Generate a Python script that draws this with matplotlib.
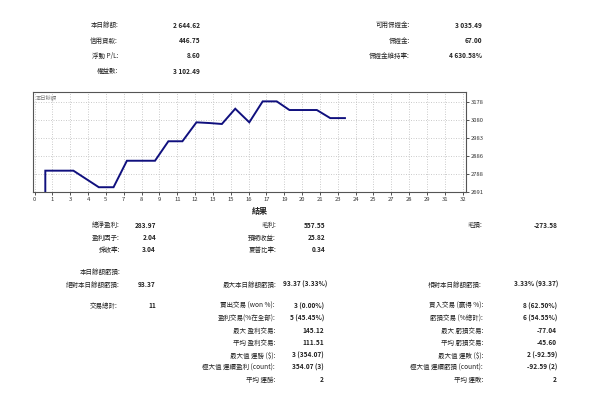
import numpy as np
import matplotlib.pyplot as plt

plt.rcParams["font.family"] = ["Noto Sans CJK TC", "DejaVu Sans"]

# account summary
top_left_labels = ["本日餘額:", "信用貸款:", "浮動 P/L:", "權益數:"]
top_left_values = ["2 644.62", "446.75", "8.60", "3 102.49"]
top_right_labels = ["可用保證金:", "保證金:", "保證金維持率:"]
top_right_values = ["3 035.49", "67.00", "4 630.58%"]

# balance curve (trade number, balance)
trade_x = [0.8, 0.8, 2.9, 4.8, 5.9, 6.9, 9.0, 10.0, 11.05, 12.1, 13.1, 14.0,
           15.0, 16.05, 17.05, 18.1, 19.05, 21.1, 22.1, 23.2]
balance = [2691, 2807, 2807, 2717, 2717, 2861, 2861, 2967, 2967, 3070, 3066, 3061,
           3144, 3070, 3184, 3184, 3137, 3137, 3093, 3093]
y_ticks = [2691, 2788, 2886, 2983, 3080, 3178]

# results table
res_col1 = [("總淨盈利:", "283.97"), ("盈利因子:", "2.04"), ("採收率:", "3.04")]
res_col2 = [("毛利:", "557.55"), ("預期收益:", "25.82"), ("夏普比率:", "0.34")]
res_col3 = [("毛損:", "-273.58")]
dd_labels = ["絕對本日餘額虧損:", "最大本日餘額虧損:", "相對本日餘額虧損:"]
dd_values = ["93.37", "93.37 (3.33%)", "3.33% (93.37)"]
trade_col2 = [("賣出交易 (won %):", "3 (0.00%)"), ("盈利交易(%在全部):", "5 (45.45%)"),
              ("最大 盈利交易:", "145.12"), ("平均 盈利交易:", "111.51"),
              ("最大值 連勝 ($):", "3 (354.07)"), ("極大值 連續盈利 (count):", "354.07 (3)"),
              ("平均 連勝:", "2")]
trade_col3 = [("買入交易 (贏得 %):", "8 (62.50%)"), ("虧損交易 (%總計):", "6 (54.55%)"),
              ("最大 虧損交易:", "-77.04"), ("平均 虧損交易:", "-45.60"),
              ("最大值 連敗 ($):", "2 (-92.59)"), ("極大值 連續虧損 (count):", "-92.59 (2)"),
              ("平均 連敗:", "2")]

W, H = 592, 394
fig = plt.figure(figsize=(W / 100, H / 100), dpi=100)
fig.patch.set_facecolor("white")


def put(x, y, s, bold=False, ha="right", size=4.7):
    fig.text(x / W, 1 - y / H, s, ha=ha, va="center", fontsize=size,
             fontweight="bold" if bold else "normal", color="#222222")


def pair(xl, xv, y, lab, val):
    put(xl, y, lab)
    put(xv, y, val, bold=True)


for i, (l, v) in enumerate(zip(top_left_labels, top_left_values)):
    pair(118, 200, 25 + i * 15.5, l, v)
for i, (l, v) in enumerate(zip(top_right_labels, top_right_values)):
    pair(410, 482, 25 + i * 15.5, l, v)

# chart
ax = fig.add_axes([33 / W, 1 - 192 / H, (466 - 33) / W, 100 / H])
ax.plot(trade_x, balance, color="#10107e", lw=1.4, solid_joinstyle="miter")
ax.set_xlim(-0.12, 32.25)
ax.set_ylim(2691, 3235)
xt = np.arange(25) * 32 / 24
ax.set_xticks(xt)
ax.set_xticklabels([str(int(round(v))) for v in xt])
ax.set_yticks(y_ticks)
ax.yaxis.tick_right()
ax.tick_params(labelsize=4.2, length=2, width=0.6, colors="#333333", pad=1.5)
ax.grid(True, color="#c4c4c4", lw=0.6, ls=(0, (1.2, 1.8)))
for s in ax.spines.values():
    s.set_color("#555555")
    s.set_linewidth(0.8)
ax.text(0.006, 0.96, "本日餘額", transform=ax.transAxes, fontsize=3.8,
        color="#777777", va="top", ha="left")

# results
put(260, 212, "結果", bold=True, ha="center", size=5.8)
for i, (l, v) in enumerate(res_col1):
    pair(120, 156, 225 + i * 12.5, l, v)
for i, (l, v) in enumerate(res_col2):
    pair(276, 325, 225 + i * 12.5, l, v)
for i, (l, v) in enumerate(res_col3):
    pair(482, 558, 225 + i * 12.5, l, v)

put(120, 272, "本日餘額虧損:")
pair(120, 156, 284.5, dd_labels[0], dd_values[0])
pair(276, 327, 284.5, dd_labels[1], dd_values[1])
pair(482, 558, 284.5, dd_labels[2], dd_values[2])

pair(118, 156, 306, "交易總計:", "11")
for i, (l, v) in enumerate(trade_col2):
    pair(275, 324, 306 + i * 12.3, l, v)
for i, (l, v) in enumerate(trade_col3):
    pair(483, 557, 306 + i * 12.3, l, v)

fig.savefig("out.png", dpi=100, facecolor="white")
